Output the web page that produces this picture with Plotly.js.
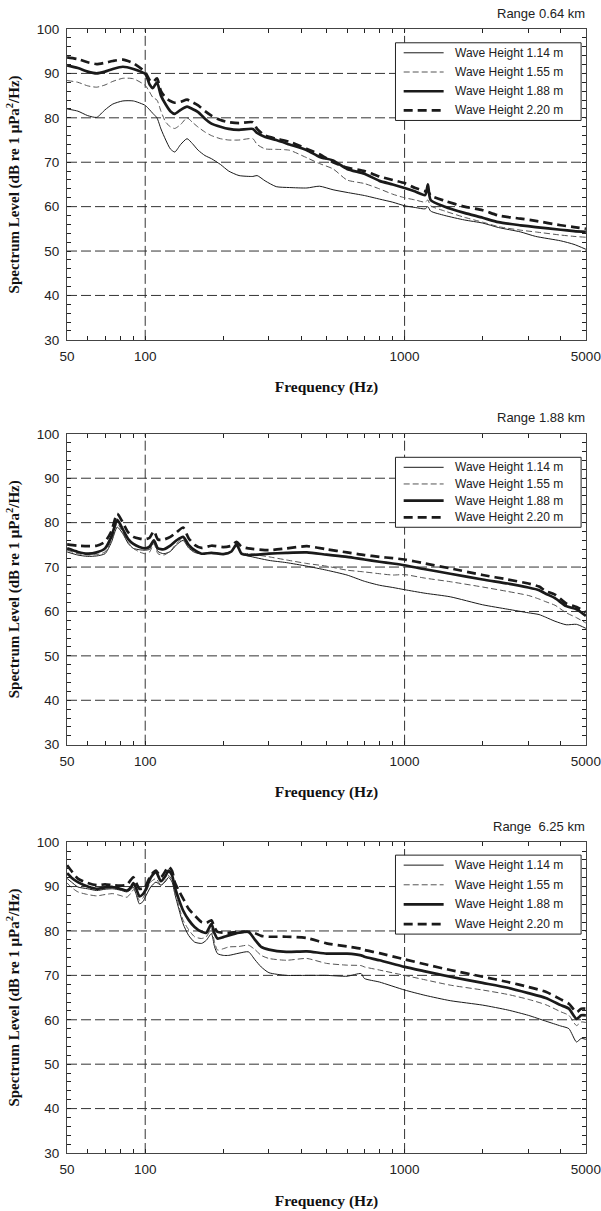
<!DOCTYPE html>
<html>
<head>
<meta charset="utf-8">
<script src="https://cdn.plot.ly/plotly-3.0.1.min.js"></script>
<style>html,body{margin:0;padding:0;background:#fff}#chart{width:601px;height:1211px}</style>
</head>
<body>
<div id="chart"></div>
<script>
// ---------- data ----------
const seriesNames = ["Wave Height 1.14 m", "Wave Height 1.55 m", "Wave Height 1.88 m", "Wave Height 2.20 m"];
const panelTitles = ["Range 0.64 km", "Range 1.88 km", "Range\u00a0 6.25 km"];
const xTickVals = [50, 60, 70, 80, 90, 100, 200, 300, 400, 500, 600, 700, 800, 900, 1000, 2000, 3000, 4000, 5000];
const xTickText = ["50", "", "", "", "", "100", "", "", "", "", "", "", "", "", "1000", "", "", "", "5000"];
const yTickVals = [30, 32, 34, 36, 38, 40, 42, 44, 46, 48, 50, 52, 54, 56, 58, 60, 62, 64, 66, 68, 70, 72, 74, 76, 78, 80, 82, 84, 86, 88, 90, 92, 94, 96, 98, 100];
const yTickText = ["30", "", "", "", "", "40", "", "", "", "", "50", "", "", "", "", "60", "", "", "", "", "70", "", "", "", "", "80", "", "", "", "", "90", "", "", "", "", "100"];
const gridX = [100, 1000];
const gridY = [40, 50, 60, 70, 80, 90];

// Panel 1: Range 0.64 km
const freq1 = [50, 55, 60, 65, 70, 75, 82, 90, 100, 104, 107, 111, 115, 120, 125, 130, 137, 145, 152, 160, 170, 180, 195, 210, 230, 260, 270, 290, 320, 360, 420, 470, 530, 600, 700, 800, 900, 1000, 1100, 1200, 1230, 1260, 1430, 1700, 2000, 2300, 2800, 3200, 4000, 4500, 5000];
const p1_h114 = [82.0, 81.5, 80.5, 80.1, 81.8, 83.1, 83.8, 83.8, 82.8, 81.8, 81.0, 80.0, 77.5, 75.0, 73.0, 72.3, 74.0, 75.3, 74.2, 72.7, 71.5, 70.8, 69.5, 68.0, 67.0, 66.8, 67.0, 65.8, 64.5, 64.3, 64.2, 64.6, 63.8, 63.2, 62.5, 61.7, 61.0, 60.2, 59.8, 59.5, 60.0, 59.0, 58.0, 57.0, 56.3, 55.3, 54.3, 53.3, 52.3, 51.5, 50.4];
const p1_h155 = [88.4, 88.0, 87.2, 86.9, 87.4, 88.2, 88.9, 88.8, 87.3, 85.8, 84.6, 84.0, 81.5, 79.0, 78.0, 77.6, 78.5, 80.0, 79.0, 77.9, 76.8, 76.0, 75.3, 75.0, 75.0, 75.3, 74.0, 73.0, 72.9, 72.7, 71.0, 69.7, 68.5, 66.0, 65.2, 64.0, 62.8, 62.0, 61.5, 61.0, 61.5, 60.2, 59.0, 57.6, 56.5, 55.5, 54.7, 54.3, 53.6, 53.3, 53.1];
const p1_h188 = [91.8, 91.2, 90.4, 90.0, 90.4, 91.0, 91.5, 91.0, 89.9, 87.5, 86.7, 88.0, 85.0, 83.0, 81.5, 80.9, 81.8, 82.5, 82.0, 81.3, 79.8, 78.7, 78.0, 77.5, 77.3, 77.5, 76.6, 75.7, 75.0, 74.0, 72.7, 71.2, 70.4, 68.5, 67.4, 65.8, 65.0, 64.2, 63.4, 62.6, 65.0, 61.5, 60.0, 58.6, 57.5, 56.5, 55.8, 55.4, 54.8, 54.5, 54.3];
const p1_h220 = [93.6, 93.2, 92.5, 92.1, 92.4, 92.8, 93.1, 92.3, 90.3, 88.5, 88.0, 88.9, 86.0, 84.5, 83.8, 83.4, 83.6, 84.1, 83.5, 82.8, 81.5, 80.5, 79.5, 79.0, 78.8, 79.0, 77.5, 76.0, 75.3, 74.6, 73.0, 71.8, 70.0, 68.8, 68.0, 66.8, 66.0, 65.3, 64.2, 63.5, 63.6, 62.5, 61.3, 60.0, 59.2, 58.0, 57.3, 56.8, 55.8, 55.4, 55.0];

// Panel 2: Range 1.88 km
const freq2 = [50, 55, 60, 65, 70, 74, 78, 82, 86, 90, 95, 100, 104, 108, 112, 118, 125, 132, 140, 147, 155, 165, 180, 200, 215, 225, 235, 250, 300, 350, 420, 500, 600, 700, 800, 900, 1000, 1200, 1500, 2000, 2500, 3000, 3300, 3500, 3800, 4200, 4600, 5000];
const p2_h114 = [73.4, 72.7, 72.4, 72.5, 73.0, 75.5, 79.0, 77.5, 75.3, 74.2, 73.9, 73.8, 74.0, 75.7, 73.5, 73.0, 73.5, 75.0, 76.0, 74.3, 73.3, 73.0, 73.2, 73.0, 73.5, 74.9, 73.0, 72.5, 71.5, 71.0, 70.2, 69.3, 68.2, 66.8, 65.9, 65.4, 64.9, 64.1, 63.3, 61.5, 60.5, 59.7, 59.3, 58.7, 57.8, 57.0, 57.1, 56.2];
const p2_h155 = [73.8, 73.0, 72.7, 72.8, 73.4, 76.0, 79.8, 77.8, 75.5, 74.2, 73.4, 73.0, 73.4, 75.3, 73.0, 72.7, 73.6, 75.3, 76.4, 74.5, 73.4, 73.0, 73.2, 73.0, 73.6, 74.9, 73.2, 73.0, 72.3, 71.6, 70.8, 70.2, 69.3, 68.9, 68.5, 68.2, 68.3, 67.5, 66.7, 65.5, 64.5, 63.6, 62.8, 62.2, 61.4, 59.7, 58.6, 57.4];
const p2_h188 = [74.2, 73.4, 73.0, 73.3, 74.2, 76.8, 80.6, 78.5, 76.3, 75.2, 74.5, 74.2, 74.6, 76.0, 74.2, 74.0, 74.8, 76.0, 76.8, 75.0, 73.8, 73.0, 73.2, 72.9, 73.5, 75.1, 73.0, 72.7, 73.0, 73.2, 73.3, 72.8, 72.3, 71.7, 71.2, 70.8, 70.4, 69.5, 68.5, 67.2, 66.3, 65.4, 64.8, 64.0, 63.0, 61.2, 60.5, 59.0];
const p2_h220 = [75.1, 74.8, 74.7, 74.8, 75.7, 78.0, 82.0, 80.0, 77.8, 76.8, 76.4, 76.3, 76.6, 78.1, 76.2, 76.2, 76.8, 77.8, 78.9, 76.5, 75.0, 74.3, 74.8, 74.5, 74.8, 75.7, 74.6, 74.2, 73.8, 74.2, 74.7, 74.0, 73.3, 72.7, 72.3, 72.0, 71.7, 70.8, 69.7, 68.2, 67.2, 66.3, 65.6, 64.6, 63.8, 61.8, 61.0, 59.8];

// Panel 3: Range 6.25 km
const freq3 = [50, 52, 55, 60, 65, 70, 75, 80, 85, 88, 90, 92, 95, 98, 100, 105, 110, 115, 120, 123, 127, 130, 135, 140, 147, 155, 165, 172, 180, 185, 190, 200, 210, 230, 250, 265, 280, 300, 350, 420, 500, 600, 680, 700, 800, 1000, 1200, 1500, 2000, 2500, 3000, 3500, 4000, 4300, 4600, 4800, 5000];
const p3_h114 = [91.8, 91.0, 89.9, 89.5, 89.1, 89.4, 89.5, 89.2, 88.8, 89.3, 89.9, 88.5, 86.1, 86.6, 87.6, 89.9, 91.0, 90.3, 91.2, 92.1, 91.0, 88.4, 84.8, 81.6, 79.0, 77.5, 77.2, 77.9, 79.4, 76.5, 74.9, 74.5, 74.5, 75.0, 75.3, 73.5, 71.9, 70.6, 70.0, 70.0, 70.0, 69.8, 70.4, 69.3, 68.5, 66.7, 65.5, 64.3, 63.3, 62.2, 61.0, 59.7, 58.6, 58.0, 55.0, 55.8, 55.6];
const p3_h155 = [90.8, 89.8, 88.8, 88.2, 87.9, 88.2, 88.4, 88.0, 87.6, 88.5, 89.3, 88.7, 86.9, 87.4, 88.4, 91.0, 91.8, 90.3, 91.5, 92.5, 91.5, 89.1, 85.5, 82.4, 80.3, 78.7, 78.3, 78.7, 80.5, 77.5, 75.7, 76.0, 76.4, 76.5, 76.8, 75.8, 74.5, 73.8, 73.4, 73.8, 72.7, 72.3, 72.2, 71.9, 71.2, 70.0, 69.0, 67.8, 66.7, 65.7, 64.6, 63.4, 61.8, 61.0, 58.7, 59.5, 59.4];
const p3_h188 = [93.0, 92.0, 91.0, 90.0, 89.5, 89.8, 89.9, 89.5, 89.1, 89.8, 90.8, 89.8, 87.8, 88.3, 89.1, 92.0, 93.3, 91.2, 92.5, 93.6, 92.5, 89.9, 87.0, 84.6, 82.5, 80.9, 79.8, 79.6, 81.6, 79.5, 78.3, 78.6, 79.0, 79.6, 79.8, 78.0, 76.4, 75.8, 75.3, 75.4, 74.9, 74.9, 74.5, 74.2, 73.4, 71.9, 70.9, 69.7, 68.3, 67.2, 66.0, 64.9, 63.3, 62.5, 60.2, 61.0, 61.0];
const p3_h220 = [94.8, 93.5, 91.8, 90.8, 90.3, 90.5, 90.3, 90.2, 90.4, 91.5, 92.1, 91.0, 89.5, 89.6, 89.9, 92.5, 93.6, 92.1, 93.6, 94.5, 93.5, 91.0, 89.0, 87.3, 85.0, 83.5, 82.0, 81.8, 82.4, 80.8, 79.8, 79.6, 79.6, 79.8, 79.8, 79.5, 78.9, 78.7, 78.7, 78.4, 77.2, 76.5, 76.0, 75.7, 75.0, 73.6, 72.5, 71.2, 69.7, 68.5, 67.4, 66.3, 64.6, 63.6, 61.7, 62.5, 62.5];

const panels = [
  {freq: freq1, ys: [p1_h114, p1_h155, p1_h188, p1_h220]},
  {freq: freq2, ys: [p2_h114, p2_h155, p2_h188, p2_h220]},
  {freq: freq3, ys: [p3_h114, p3_h155, p3_h188, p3_h220]}
];

// ---------- styles ----------
const lineStyles = [
  {color: '#1a1a1a', width: 1, dash: 'solid'},
  {color: '#555555', width: 1, dash: '6px,3px'},
  {color: '#1a1a1a', width: 2.7, dash: 'solid'},
  {color: '#1a1a1a', width: 2.7, dash: '9px,5px'}
];

const L = 67, R = 14.5, T = 28.5, B = 58;
const H = 1211, W = 601;
const plotH = H - T - B, plotW = W - L - R;
function py(pix) { return (H - B - pix) / plotH; }
function px(pix) { return (pix - L) / plotW; }
const panelPix = [[28.5, 339.5], [433.5, 744.5], [842, 1153]];

const traces = [];
panels.forEach((p, i) => {
  const sfx = i === 0 ? '' : String(i + 1);
  p.ys.forEach((y, k) => {
    traces.push({
      type: 'scatter', mode: 'lines',
      x: p.freq, y: y,
      name: seriesNames[k],
      xaxis: 'x' + sfx, yaxis: 'y' + sfx,
      showlegend: false,
      line: Object.assign({shape: 'spline', smoothing: 0.6}, lineStyles[k]),
      hoverinfo: 'x+y+name'
    });
  });
});

const tickFont = {family: 'Liberation Sans, Arial, sans-serif', size: 13.5, color: '#222'};
const titleFont = {family: 'Liberation Serif, Times New Roman, serif', size: 15.5, color: '#111', weight: 'bold'};

function xaxisDef(anchor) {
  return {
    type: 'log', range: [Math.log10(50) - 0.0005, Math.log10(5000) + 0.0005],
    anchor: anchor,
    tickmode: 'array', tickvals: xTickVals, ticktext: xTickText, tickangle: 0,
    ticks: 'inside', ticklen: 4, tickcolor: '#222', tickwidth: 1,
    showline: true, linecolor: '#444', linewidth: 1, mirror: 'ticks',
    showgrid: false,
    tickfont: tickFont, ticklabelstandoff: 4,
    title: {text: 'Frequency (Hz)', font: titleFont, standoff: 18},
    zeroline: false, automargin: false
  };
}
function yaxisDef(anchor, dom) {
  return {
    range: [30, 100], domain: dom, anchor: anchor,
    tickmode: 'array', tickvals: yTickVals, ticktext: yTickText, tickangle: 0,
    ticks: 'inside', ticklen: 4, tickcolor: '#222', tickwidth: 1,
    showline: true, linecolor: '#444', linewidth: 1, mirror: 'ticks',
    showgrid: false,
    tickfont: tickFont, ticklabelstandoff: 4,
    title: {text: 'Spectrum Level (dB re 1 \u03bcPa<sup>2</sup>/Hz)', font: Object.assign({}, titleFont, {size: 15}), standoff: 13},
    zeroline: false, automargin: false
  };
}

const shapes = [];
const annotations = [];
const gridLine = {color: '#333', width: 1, dash: '10px,4px'};

// legend geometry (pixels)
const legendBoxes = [[42.3, 120], [457, 527], [855, 934]];
const legendX0 = 395.8, legendX1 = 581.6, sampleX0 = 404, sampleX1 = 444, labelX = 453;

panels.forEach((p, i) => {
  const sfx = i === 0 ? '' : String(i + 1);
  gridX.forEach(v => shapes.push({type: 'line', layer: 'below', xref: 'x' + sfx, yref: 'y' + sfx + ' domain', x0: v, x1: v, y0: 0, y1: 1, line: gridLine}));
  gridY.forEach(v => shapes.push({type: 'line', layer: 'below', xref: 'x' + sfx + ' domain', yref: 'y' + sfx, x0: 0, x1: 1, y0: v, y1: v, line: gridLine}));

  annotations.push({
    text: panelTitles[i], xref: 'paper', yref: 'paper',
    x: px(588), xanchor: 'right', y: py(panelPix[i][0] - 16), yanchor: 'middle',
    showarrow: false, font: {family: 'Liberation Sans, Arial, sans-serif', size: 13, color: '#222'}
  });

  const [top, bot] = legendBoxes[i];
  shapes.push({type: 'rect', xref: 'paper', yref: 'paper', x0: px(legendX0), x1: px(legendX1), y0: py(bot), y1: py(top),
    fillcolor: '#fff', line: {color: '#222', width: 1}, layer: 'above'});
  const step = (bot - top - 20) / 3;
  seriesNames.forEach((nm, k) => {
    const yy = top + 10 + step * k;
    shapes.push({type: 'line', xref: 'paper', yref: 'paper', x0: px(sampleX0), x1: px(sampleX1), y0: py(yy), y1: py(yy),
      line: {color: lineStyles[k].color, width: lineStyles[k].width, dash: lineStyles[k].dash}, layer: 'above'});
    annotations.push({
      text: nm, xref: 'paper', yref: 'paper', x: px(labelX), xanchor: 'left', y: py(yy), yanchor: 'middle',
      showarrow: false, font: {family: 'Liberation Sans, Arial, sans-serif', size: 12, color: '#222'}
    });
  });
});

const layout = {
  width: W, height: H,
  margin: {l: L, r: R, t: T, b: B},
  paper_bgcolor: '#fff', plot_bgcolor: '#fff',
  showlegend: false,
  xaxis: xaxisDef('y'), xaxis2: xaxisDef('y2'), xaxis3: xaxisDef('y3'),
  yaxis: yaxisDef('x', [py(panelPix[0][1]), py(panelPix[0][0])]),
  yaxis2: yaxisDef('x2', [py(panelPix[1][1]), py(panelPix[1][0])]),
  yaxis3: yaxisDef('x3', [py(panelPix[2][1]), py(panelPix[2][0])]),
  shapes: shapes,
  annotations: annotations
};

Plotly.newPlot('chart', traces, layout, {displayModeBar: false, staticPlot: true});
</script>
</body>
</html>
